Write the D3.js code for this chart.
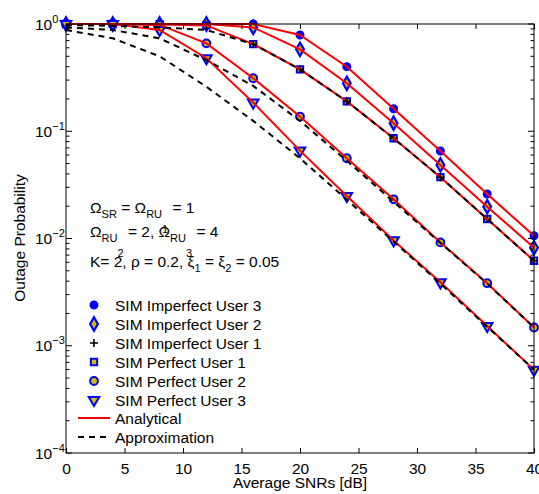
<!DOCTYPE html>
<html>
<head>
<meta charset="utf-8">
<script src="https://cdn.jsdelivr.net/npm/d3@7"></script>
<style>
  html, body { margin: 0; padding: 0; background: #fff; }
  svg { display: block; }
  text { font-family: "Liberation Sans", Arial, Helvetica, sans-serif; fill: #000; }
</style>
</head>
<body>
<svg id="chart" width="539" height="494"></svg>
<script>
// Average SNR values (dB) at which every curve is evaluated
const snr = [0, 4, 8, 12, 16, 20, 24, 28, 32, 36, 40];

// Simulated / analytical outage probabilities
const imperfectUser3 = [1, 1, 1, 1, 1, 0.79, 0.40, 0.162, 0.0655, 0.026, 0.0106];
const imperfectUser2 = [1, 1, 1, 1, 0.93, 0.58, 0.28, 0.119, 0.0485, 0.0198, 0.0082];
const imperfectUser1 = [1, 1, 0.99, 0.97, 0.65, 0.378, 0.19, 0.086, 0.0373, 0.0152, 0.0062];
const perfectUser1   = [1, 1, 0.99, 0.97, 0.65, 0.378, 0.19, 0.086, 0.0373, 0.0152, 0.0062];
const perfectUser2   = [1, 1, 0.98, 0.66, 0.312, 0.137, 0.056, 0.0232, 0.0092, 0.00383, 0.00148];
const perfectUser3   = [1, 1, 0.88, 0.48, 0.185, 0.066, 0.0249, 0.0096, 0.0039, 0.00153, 0.000596];

// High-SNR approximations
const approxUser1 = [0.98, 0.96, 0.93, 0.88, 0.65, 0.378, 0.19, 0.086, 0.0373, 0.0152, 0.0062];
const approxUser2 = [0.93, 0.88, 0.735, 0.46, 0.265, 0.125, 0.053, 0.022, 0.0091, 0.0038, 0.00148];
const approxUser3 = [0.88, 0.735, 0.50, 0.26, 0.125, 0.056, 0.023, 0.0094, 0.0038, 0.0015, 0.0006];

const xTicks = [0, 5, 10, 15, 20, 25, 30, 35, 40];
const yTicks = [1e-4, 1e-3, 1e-2, 1e-1, 1];
const yTickExponents = ["\u22124", "\u22123", "\u22122", "\u22121", "0"];

const legendLabels = [
  "SIM Imperfect User 3", "SIM Imperfect User 2", "SIM Imperfect User 1",
  "SIM Perfect User 1", "SIM Perfect User 2", "SIM Perfect User 3",
  "Analytical", "Approximation"
];

const svg = d3.select("#chart");
const plotL = 66, plotR = 534, plotT = 24, plotB = 453;
const FS = 15.5, SUB = 11;

const x = d3.scaleLinear().domain([0, 40]).range([plotL, plotR]);
const y = d3.scaleLog().domain([1e-4, 1]).range([plotB, plotT]);

const BLUE = "#0000ff", FILL = "#c8c000";

// marker painters
const sym = (type, size) => d3.symbol().type(type).size(size)();
const markerStyles = {
  dot:      g => g.append("path").attr("d", sym(d3.symbolCircle, 44)).attr("fill", BLUE).attr("stroke", BLUE).attr("stroke-width", 1.5),
  diamond:  g => g.append("path").attr("d", sym(d3.symbolDiamond, 52)).attr("fill", FILL).attr("stroke", BLUE).attr("stroke-width", 2.2),
  plus:     g => g.append("path").attr("d", "M-4,0H4M0,-4V4").attr("fill", "none").attr("stroke", "#000").attr("stroke-width", 1.6),
  square:   g => g.append("path").attr("d", sym(d3.symbolSquare, 40)).attr("fill", FILL).attr("stroke", BLUE).attr("stroke-width", 2),
  circle:   g => g.append("path").attr("d", sym(d3.symbolCircle, 48)).attr("fill", FILL).attr("stroke", BLUE).attr("stroke-width", 2),
  triangle: g => g.append("path").attr("d", sym(d3.symbolTriangle, 48)).attr("transform", "rotate(180)").attr("fill", FILL).attr("stroke", BLUE).attr("stroke-width", 2)
};

const simSeries = [
  { values: imperfectUser3, marker: "dot" },
  { values: imperfectUser2, marker: "diamond" },
  { values: perfectUser1,   marker: "square" },
  { values: imperfectUser1, marker: "plus" },
  { values: perfectUser2,   marker: "circle" },
  { values: perfectUser3,   marker: "triangle" }
];
const analyticalSeries = [imperfectUser3, imperfectUser2, perfectUser1, perfectUser2, perfectUser3];
const approxSeries = [approxUser1, approxUser2, approxUser3];

const line = d3.line().x((d, i) => x(snr[i])).y(d => y(d));

// simulated markers
const plot = svg.append("g");
simSeries.forEach(s => {
  s.values.forEach((v, i) => {
    const g = plot.append("g").attr("transform", `translate(${x(snr[i])},${y(v)})`);
    markerStyles[s.marker](g);
  });
});

// analytical curves
analyticalSeries.forEach(vals => {
  plot.append("path").datum(vals).attr("d", line)
    .attr("fill", "none").attr("stroke", "#ff0000").attr("stroke-width", 2);
});
// approximation curves
approxSeries.forEach(vals => {
  plot.append("path").datum(vals).attr("d", line)
    .attr("fill", "none").attr("stroke", "#000").attr("stroke-width", 2).attr("stroke-dasharray", "6,5");
});

// axes box
svg.append("rect").attr("x", plotL).attr("y", plotT).attr("width", plotR - plotL).attr("height", plotB - plotT)
  .attr("fill", "none").attr("stroke", "#000").attr("stroke-width", 1);

// x ticks (bottom and top, pointing inward)
const xAxisB = svg.append("g").attr("transform", `translate(0,${plotB})`)
  .call(d3.axisBottom(x).tickValues(xTicks).tickSizeInner(-5).tickSizeOuter(0).tickPadding(10).tickFormat(d3.format("d")));
xAxisB.select(".domain").remove();
xAxisB.selectAll("text").attr("font-size", FS).attr("font-family", "Liberation Sans, Arial, sans-serif");
const xAxisT = svg.append("g").attr("transform", `translate(0,${plotT})`)
  .call(d3.axisTop(x).tickValues(xTicks).tickSizeInner(-5).tickSizeOuter(0).tickFormat(""));
xAxisT.select(".domain").remove();

// y ticks: major decades plus minor 2..9
const minor = [];
for (let e = -4; e < 0; e++) for (let m = 2; m <= 9; m++) minor.push(m * Math.pow(10, e));
[[plotL, 1], [plotR, -1]].forEach(([x0, dir]) => {
  svg.append("g").selectAll("line").data(yTicks).join("line")
    .attr("x1", x0).attr("x2", x0 + dir * 6).attr("y1", d => y(d)).attr("y2", d => y(d))
    .attr("stroke", "#000").attr("stroke-width", 1);
  svg.append("g").selectAll("line").data(minor).join("line")
    .attr("x1", x0).attr("x2", x0 + dir * 3.5).attr("y1", d => y(d)).attr("y2", d => y(d))
    .attr("stroke", "#000").attr("stroke-width", 1);
});

// y tick labels as 10^n
const yl = svg.append("g").selectAll("text").data(yTicks).join("text")
  .attr("x", 35).attr("y", d => y(d) + 5.5).attr("font-size", FS);
yl.append("tspan").text("10");
yl.append("tspan").attr("font-size", SUB).attr("dy", -7).text((d, i) => yTickExponents[i]);

// axis titles
svg.append("text").attr("x", 300).attr("y", 488).attr("text-anchor", "middle").attr("font-size", FS).text("Average SNRs [dB]");
svg.append("text").attr("transform", "translate(25,238) rotate(-90)").attr("text-anchor", "middle").attr("font-size", FS).text("Outage Probability");

// parameter annotation: each run is [text, size, vertical shift]
function richText(px, py, runs) {
  const t = svg.append("text").attr("x", px).attr("y", py).attr("font-size", FS).attr("xml:space", "preserve");
  runs.forEach(([txt, size, dy]) => {
    t.append("tspan").attr("font-size", size).attr("dy", dy).text(txt);
  });
}
richText(90, 213, [
  ["\u03A9", FS, 0], ["SR", SUB, 5], [" = \u03A9", FS, -5], ["RU", SUB, 5], ["1", SUB, 15], [" = 1", FS, -20]
]);
richText(90, 237, [
  ["\u03A9", FS, 0], ["RU", SUB, 5], ["2", SUB, 15], [" = 2, \u03A9", FS, -20], ["RU", SUB, 5], ["3", SUB, 15], [" = 4", FS, -20]
]);
richText(90, 267, [
  ["K= 2, \u03C1 = 0.2, \u03BE", FS, 0], ["1", SUB, 5], [" = \u03BE", FS, -5], ["2", SUB, 5], [" = 0.05", FS, -5]
]);

// legend
const legendY = [305, 324, 343, 362, 381, 400, 418, 437];
const legendMarkers = ["dot", "diamond", "plus", "square", "circle", "triangle"];
legendMarkers.forEach((m, i) => {
  const g = svg.append("g").attr("transform", `translate(94,${legendY[i]})`);
  markerStyles[m](g);
});
svg.append("line").attr("x1", 78).attr("x2", 110).attr("y1", legendY[6]).attr("y2", legendY[6])
  .attr("stroke", "#ff0000").attr("stroke-width", 2);
svg.append("line").attr("x1", 78).attr("x2", 110).attr("y1", legendY[7]).attr("y2", legendY[7])
  .attr("stroke", "#000").attr("stroke-width", 2).attr("stroke-dasharray", "6,5");
svg.append("g").selectAll("text").data(legendLabels).join("text")
  .attr("x", 115).attr("y", (d, i) => legendY[i] + 5.5).attr("font-size", FS).text(d => d);
</script>
</body>
</html>
